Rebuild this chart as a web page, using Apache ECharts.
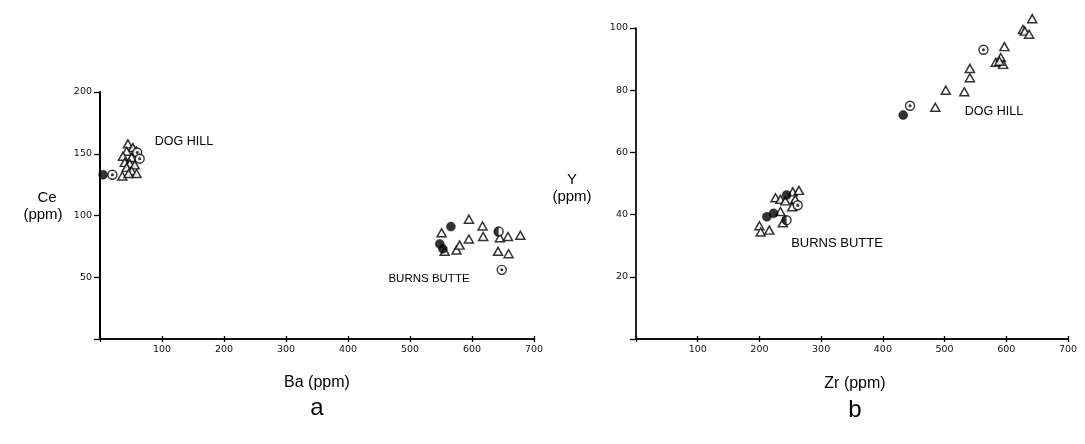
<!DOCTYPE html>
<html><head><meta charset="utf-8">
<script src="https://cdn.jsdelivr.net/npm/echarts@6/dist/echarts.min.js"></script>
<style>html,body{margin:0;padding:0;background:#fff;}#c{width:1085px;height:444px;}</style>
</head><body><div id="c"></div>
<script>
// ---------- Plot a: Ba (ppm) vs Ce (ppm) ----------
const aXTicks = [0, 100, 200, 300, 400, 500, 600, 700];
const aYTicks = [0, 50, 100, 150, 200];
const aDogTriangles = [[36,132],[45,158],[53,155],[43,152],[59,152],[37,148],[51,147],[40,143],[48,142],[56,141],[43,139],[51,136],[59,134],[46,134]];
const aDogFilled = [[5,133]];
const aDogDotted = [[20,133],[60,151],[64,146]];
const aBurnsTriangles = [[595,97],[617,91.5],[551,86],[556,71],[575,72],[580,76],[595,81],[618,83],[645,82],[658,83],[678,84],[642,71],[659,69]];
const aBurnsFilled = [[566,91],[548,77],[553,73]];
const aBurnsHalf = [[643,87]];
const aBurnsDotted = [[648,56]];

// ---------- Plot b: Zr (ppm) vs Y (ppm) ----------
const bXTicks = [0, 100, 200, 300, 400, 500, 600, 700];
const bYTicks = [0, 20, 40, 60, 80, 100];
const bDogTriangles = [[485,74.5],[502,80],[532,79.5],[541,87],[541,84],[597,94],[583,89],[591,90.5],[595,88.3],[589,89.3],[627,99.5],[630,99],[637,98],[642,103]];
const bDogFilled = [[433,72]];
const bDogDotted = [[444,75],[563,93]];
const bBurnsTriangles = [[200,36.4],[202,34.4],[216,35],[234,41],[238,37.4],[226,45.4],[234,44.9],[254,47.3],[264,47.8],[258,44.9],[253,42.5],[242,44.4]];
const bBurnsFilled = [[212,39.3],[223,40.4],[244,46.3]];
const bBurnsHalf = [[244,38.2]];
const bBurnsDotted = [[262,43]];

const INK = '#000';
const HALF = 'path://M50 0 A50 50 0 0 0 50 100 Z M100 50 L100 50 Z';

function base(data, xi, yi) {
  return {type:'scatter', xAxisIndex:xi, yAxisIndex:yi, data:data, clip:false, silent:true};
}
function tri(data, xi, yi) {
  return Object.assign(base(data, xi, yi), {symbol:'triangle', symbolSize:[9,8],
    itemStyle:{color:'#fff', borderColor:INK, borderWidth:1.5}, z:3});
}
function filled(data, xi, yi) {
  return Object.assign(base(data, xi, yi), {symbol:'circle', symbolSize:9,
    itemStyle:{color:INK, borderColor:INK, borderWidth:0.5}, z:4});
}
function dotted(data, xi, yi) {
  return [
    Object.assign(base(data, xi, yi), {symbol:'circle', symbolSize:9,
      itemStyle:{color:'#fff', borderColor:INK, borderWidth:1.4}, z:5}),
    Object.assign(base(data, xi, yi), {symbol:'circle', symbolSize:3,
      itemStyle:{color:INK}, z:6})
  ];
}
function half(data, xi, yi) {
  return [
    Object.assign(base(data, xi, yi), {symbol:'circle', symbolSize:9,
      itemStyle:{color:'#fff', borderColor:INK, borderWidth:1.4}, z:5}),
    Object.assign(base(data, xi, yi), {symbol:HALF, symbolSize:9,
      itemStyle:{color:INK}, z:6})
  ];
}

const tickFont = {fontFamily:'DejaVu Sans', fontSize:9.5, color:'#111'};
function hideZero(v){ return v === 0 ? '' : String(v); }

function xAxes(grid, ticks) {
  const b = {type:'value', gridIndex:grid, min:ticks[0], max:ticks[ticks.length-1], interval:ticks[1]-ticks[0],
    position:'bottom', splitLine:{show:false}, axisLine:{show:true, onZero:false, lineStyle:{color:INK, width:1.5}}};
  return [
    Object.assign({}, b, {axisTick:{show:true, length:3, lineStyle:{color:INK, width:1.3}},
      axisLabel:Object.assign({margin:6, formatter:hideZero}, tickFont)}),
    Object.assign({}, b, {axisTick:{show:true, inside:true, length:3, lineStyle:{color:INK, width:1.3}},
      axisLabel:{show:false}})
  ];
}
function yAxis(grid, ticks, w) {
  return {type:'value', gridIndex:grid, min:ticks[0], max:ticks[ticks.length-1], interval:ticks[1]-ticks[0],
    splitLine:{show:false}, axisLine:{show:true, onZero:false, lineStyle:{color:INK, width:w}},
    axisTick:{show:true, length:6, lineStyle:{color:INK, width:1.3}},
    axisLabel:Object.assign({margin:8, formatter:hideZero}, tickFont)};
}

const series = [].concat(
  tri(aDogTriangles,0,0), tri(aBurnsTriangles,0,0),
  filled(aDogFilled,0,0), filled(aBurnsFilled,0,0),
  dotted(aDogDotted,0,0), dotted(aBurnsDotted,0,0), half(aBurnsHalf,0,0),
  tri(bDogTriangles,2,1), tri(bBurnsTriangles,2,1),
  filled(bDogFilled,2,1), filled(bBurnsFilled,2,1),
  dotted(bDogDotted,2,1), dotted(bBurnsDotted,2,1), half(bBurnsHalf,2,1)
);

function txt(x, y, s, size) {
  return {type:'text', x:x, y:y, silent:true,
    style:{text:s, fill:INK, font: size + 'px "Liberation Sans", Arial, sans-serif', align:'center', verticalAlign:'middle'}};
}

const chart = echarts.init(document.getElementById('c'), null, {renderer:'canvas'});
chart.setOption({
  animation:false,
  backgroundColor:'#fff',
  grid:[
    {left:100, top:92, width:434, height:247},
    {left:636, top:28, width:432, height:311}
  ],
  xAxis: xAxes(0, aXTicks).concat(xAxes(1, bXTicks)),
  yAxis:[yAxis(0, aYTicks, 2), yAxis(1, bYTicks, 1.7)],
  series: series,
  graphic:[
    txt(47, 198, 'Ce', 15), txt(43, 215, '(ppm)', 15),
    txt(317, 383, 'Ba (ppm)', 16), txt(317, 408, 'a', 24),
    txt(572, 180, 'Y', 15), txt(572, 197, '(ppm)', 15),
    txt(855, 384, 'Zr (ppm)', 16), txt(855, 410, 'b', 24),
    txt(184, 142, 'DOG HILL', 12.5), txt(429, 279, 'BURNS BUTTE', 11.5),
    txt(994, 112, 'DOG HILL', 12.5), txt(837, 243, 'BURNS BUTTE', 13)
  ]
});
</script></body></html>
